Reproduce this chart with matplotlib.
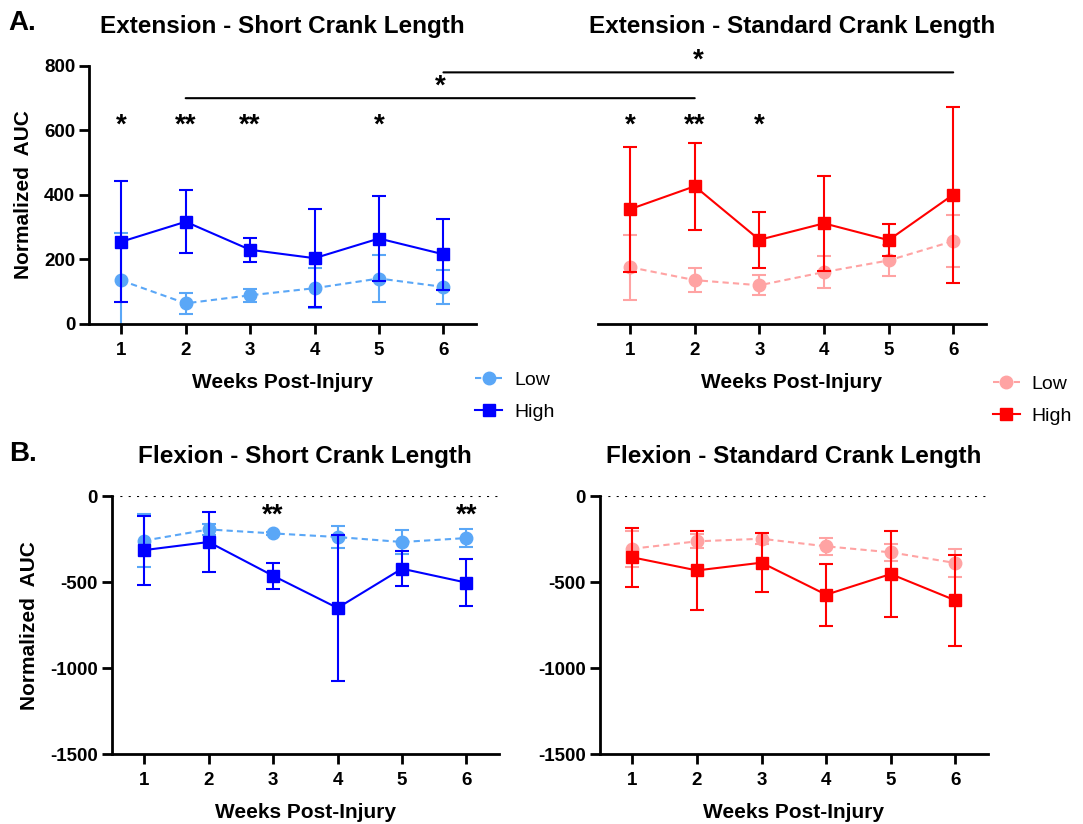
import numpy as np
import matplotlib.pyplot as plt
from matplotlib.patches import ConnectionPatch
from matplotlib.lines import Line2D

plt.rcParams['font.family'] = ['Liberation Sans', 'DejaVu Sans']
plt.rcParams['font.weight'] = 'bold'
plt.rcParams['axes.unicode_minus'] = False

weeks = [1, 2, 3, 4, 5, 6]

# Extension (A)
ext_short_low = [135, 64, 89, 111, 141, 115]
ext_short_low_err = [147, 33, 20, 62, 72, 53]
ext_short_high = [255, 317, 230, 204, 265, 216]
ext_short_high_err = [188, 97, 38, 152, 132, 110]

ext_std_low = [176, 136, 120, 161, 197, 257]
ext_std_low_err = [101, 37, 31, 50, 47, 81]
ext_std_high = [356, 427, 261, 312, 260, 401]
ext_std_high_err = [194, 135, 86, 147, 50, 273]

# Flexion (B)
flx_short_low = [-259, -194, -217, -238, -267, -244]
flx_short_low_err = [153, 30, 10, 66, 70, 50]
flx_short_high = [-314, -267, -463, -650, -422, -503]
flx_short_high_err = [200, 173, 76, 424, 100, 137]

flx_std_low = [-306, -263, -248, -292, -327, -389]
flx_std_low_err = [105, 40, 32, 48, 48, 80]
flx_std_high = [-356, -432, -387, -573, -453, -606]
flx_std_high_err = [172, 228, 172, 180, 248, 263]

stars_ext_short = {1: '*', 2: '**', 3: '**', 5: '*'}
stars_ext_std = {1: '*', 2: '**', 3: '*'}
stars_flx_short = {3: '**', 6: '**'}

blue_low, blue_high = '#5aa7f7', '#0000ff'
red_low, red_high = '#ffa3a3', '#ff0000'

fig = plt.figure(figsize=(10.83, 8.24), dpi=100)
ax1 = fig.add_axes([0.0822, 0.6068, 0.357, 0.3132])
ax2 = fig.add_axes([0.552, 0.6068, 0.358, 0.3132])
ax3 = fig.add_axes([0.1034, 0.0846, 0.357, 0.3134])
ax4 = fig.add_axes([0.554, 0.0846, 0.358, 0.3134])


def draw(ax, low, low_err, high, high_err, c_low, c_high):
    ax.errorbar(weeks, low, yerr=low_err, fmt='--o', color=c_low, ms=9,
                lw=1.5, elinewidth=1.5, capsize=5, capthick=1.5, dashes=(3, 2), zorder=2)
    ax.errorbar(weeks, high, yerr=high_err, fmt='-s', color=c_high, ms=9,
                lw=1.5, elinewidth=1.5, capsize=5, capthick=1.5, zorder=3)
    ax.set_xlim(0.5, 6.5)
    ax.set_xticks(weeks)
    for s in ['top', 'right']:
        ax.spines[s].set_visible(False)
    for s in ['left', 'bottom']:
        ax.spines[s].set_linewidth(2)
    ax.tick_params(width=2, length=7, pad=3, labelsize=13.5)
    ax.tick_params(axis='x', pad=6)
    ax.set_xlabel('Weeks Post-Injury', fontsize=15, fontweight='bold', labelpad=10)
    handles = [Line2D([], [], color=c_low, marker='o', ms=9, lw=1.5, dashes=(3, 2)),
               Line2D([], [], color=c_high, marker='s', ms=9, lw=1.5)]
    return handles


h1 = draw(ax1, ext_short_low, ext_short_low_err, ext_short_high, ext_short_high_err, blue_low, blue_high)
h2 = draw(ax2, ext_std_low, ext_std_low_err, ext_std_high, ext_std_high_err, red_low, red_high)
draw(ax3, flx_short_low, flx_short_low_err, flx_short_high, flx_short_high_err, blue_low, blue_high)
draw(ax4, flx_std_low, flx_std_low_err, flx_std_high, flx_std_high_err, red_low, red_high)

for ax in (ax1, ax2):
    ax.set_ylim(0, 800)
    ax.set_yticks([0, 200, 400, 600, 800])
ax2.spines['left'].set_visible(False)
ax2.tick_params(axis='y', left=False, labelleft=False)

for ax in (ax3, ax4):
    ax.set_ylim(-1500, 0)
    ax.set_yticks([-1500, -1000, -500, 0])
    ax.axhline(0, color='black', lw=1.5, ls=(0, (1, 3)), zorder=1)

ax1.set_ylabel('Normalized  AUC', fontsize=15, fontweight='bold', labelpad=8)
ax3.set_ylabel('Normalized  AUC', fontsize=15, fontweight='bold', labelpad=8)

ax1.set_title('Extension - Short Crank Length', fontsize=17.5, fontweight='bold', pad=24)
ax2.set_title('Extension - Standard Crank Length', fontsize=17.5, fontweight='bold', pad=24)
ax3.set_title('Flexion - Short Crank Length', fontsize=17.5, fontweight='bold', pad=24)
ax4.set_title('Flexion - Standard Crank Length', fontsize=17.5, fontweight='bold', pad=24)

for ax, stars, ystar in ((ax1, stars_ext_short, 655), (ax2, stars_ext_std, 655),
                         (ax3, stars_flx_short, -40)):
    for wk, s in stars.items():
        ax.text(wk, ystar, s, ha='center', va='top', fontsize=20, fontweight='bold')

# comparison bars between panels
for x_a, x_b, yb in ((2, 2, 700), (6, 6, 780)):
    con = ConnectionPatch(xyA=(x_a, yb), coordsA=ax1.transData,
                          xyB=(x_b, yb), coordsB=ax2.transData,
                          color='black', lw=1.5)
    fig.add_artist(con)
    pa = fig.transFigure.inverted().transform(ax1.transData.transform((x_a, yb)))
    pb = fig.transFigure.inverted().transform(ax2.transData.transform((x_b, yb)))
    fig.text((pa[0] + pb[0]) / 2, pa[1] + 0.03, '*', ha='center', va='top',
             fontsize=20, fontweight='bold')

fig.legend(h1, ['Low', 'High'], loc='upper left', bbox_to_anchor=(0.4225, 0.571),
           frameon=False, prop={'weight': 'normal', 'size': 14}, handlelength=1.4,
           handletextpad=0.6, labelspacing=0.75)
fig.legend(h2, ['Low', 'High'], loc='upper left', bbox_to_anchor=(0.9005, 0.566),
           frameon=False, prop={'weight': 'normal', 'size': 14}, handlelength=1.4,
           handletextpad=0.6, labelspacing=0.75)

fig.text(0.008, 0.964, 'A.', fontsize=20, fontweight='bold')
fig.text(0.008, 0.44, 'B.', fontsize=20, fontweight='bold')

fig.savefig('out.png', dpi=100)
